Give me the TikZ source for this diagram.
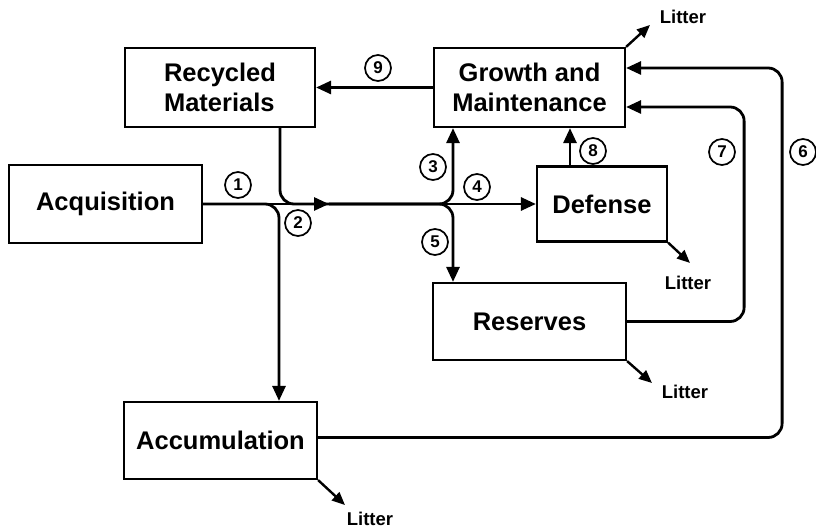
\documentclass[tikz,border=0pt]{standalone}
\usepackage{fontspec}
\setmainfont{Liberation Sans}
\usetikzlibrary{arrows.meta, positioning}
\tikzset{
  box/.style    = {rectangle, draw, line width=2.2pt, inner sep=0pt,
                   font=\fontsize{25.5}{30}\selectfont\bfseries, align=center},
  num/.style    = {circle, draw, line width=1.7pt, minimum size=26pt, inner sep=0pt,
                   font=\fontsize{17}{17}\selectfont\bfseries},
  litter/.style = {font=\fontsize{18.5}{20}\selectfont\bfseries, inner sep=0pt},
  line/.style   = {line width=2.8pt},
  arr/.style    = {-{Triangle[length=15pt, width=13pt]}, line width=2.8pt},
  larr/.style   = {-{Triangle[length=13pt, width=11pt]}, line width=2.4pt},
}

\begin{document}
\begin{tikzpicture}[x=1pt, y=-1pt]
  \path[fill=white, use as bounding box] (0,0) rectangle (816,529);

  % compartments
  \node[box, minimum width=190pt, minimum height=79pt, align=left] (rec) at (220,87.5)
    {Recycled\\Materials};
  \node[box, minimum width=191pt, minimum height=79pt] (grow) at (529.5,87.5)
    {Growth and\\Maintenance};
  \node[box, minimum width=193pt, minimum height=78pt] (acq) at (105.5,204) {Acquisition};
  \node[box, minimum width=130pt, minimum height=75pt] (def) at (602,204) {Defense};
  \node[box, minimum width=193pt, minimum height=77pt] (res) at (529.5,321.5) {Reserves};
  \node[box, minimum width=193pt, minimum height=77pt] (acc) at (220.5,440.5) {Accumulation};

  \coordinate (mid) at (329,204);

  % main flow
  \draw[arr] (acq.east) -- (def.west);
  \draw[arr] (acq.east) -- (mid);
  \draw[line, rounded corners=14pt] ([xshift=60pt]rec.south)
    -- ([xshift=60pt]rec.south |- mid) -- (mid);
  \draw[arr, rounded corners=14pt] (acq.east)
    -- ([xshift=58.5pt]acc.north |- acq.east) -- ([xshift=58.5pt]acc.north);
  \draw[arr, rounded corners=14pt] (mid)
    -- ([xshift=-76.5pt]grow.south |- mid) -- ([xshift=-76.5pt]grow.south);
  \draw[arr, rounded corners=14pt] (mid)
    -- ([xshift=-76.5pt]res.north |- mid) -- ([xshift=-76.5pt]res.north);
  \draw[arr] ([xshift=-32pt]def.north) -- ([xshift=-32pt]def.north |- grow.south);
  \draw[arr] (grow.west) -- (grow.west -| rec.east);
  \draw[arr, rounded corners=14pt] (res.east) -- ++(117,0) |- ([yshift=-19.5pt]grow.east);
  \draw[arr, rounded corners=14pt] ([yshift=3pt]acc.east) -- ++(464,0)
    |- ([yshift=19.5pt]grow.east);

  % litter
  \node[litter] (litG) at (683,17) {Litter};
  \node[litter] (litD) at (688,283) {Litter};
  \node[litter] (litR) at (685,392) {Litter};
  \node[litter] (litA) at (370,519) {Litter};
  \coordinate (tipG) at (650,25);
  \coordinate (tipD) at (690,263);
  \coordinate (tipR) at (652,383);
  \coordinate (tipA) at (345,505);
  \draw[larr] (grow.north east) -- (tipG);
  \draw[larr] (def.south east) -- (tipD);
  \draw[larr] (res.south east) -- (tipR);
  \draw[larr] (acc.south east) -- (tipA);

  % flow numbers
  \foreach \n/\x/\y in {1/238/185, 2/298/223, 3/433/167, 4/477/187, 5/435/242,
                        6/803/152, 7/722/152, 8/593/151, 9/378/68}
    \node[num] (c\n) at (\x,\y) {\n};

\end{tikzpicture}
\end{document}
